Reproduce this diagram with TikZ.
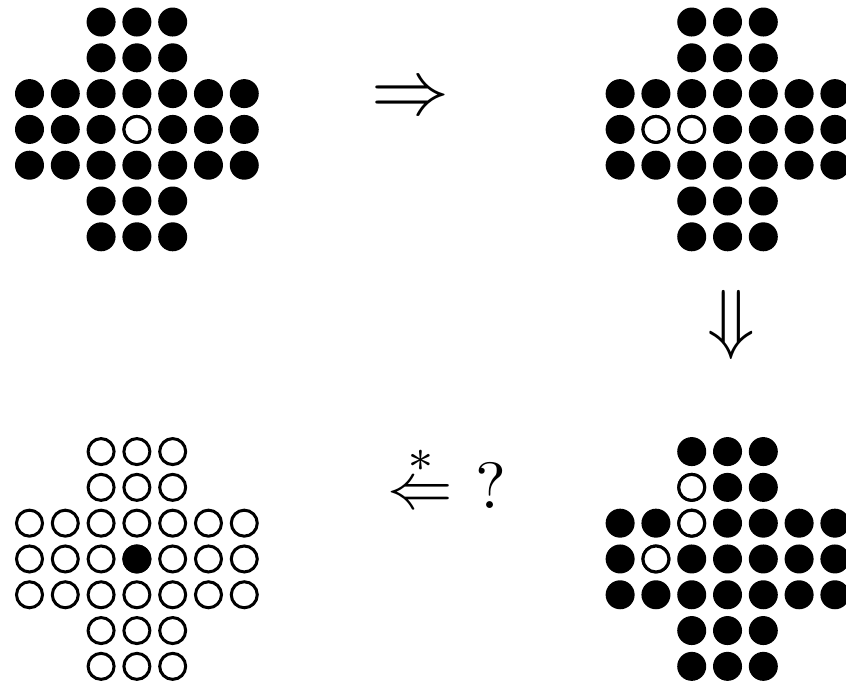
\documentclass[tikz,border=0pt]{standalone}
\usepackage{amssymb,amsmath}
\usepackage{graphicx}
\usepackage{tikz}

\tikzset{
    peg/.style={fill=black, radius=0.405},
    hole/.style={draw=black, fill=white, line width=1.2pt, radius=0.363}
}

\begin{document}
\begin{tikzpicture}[x=0.5cm,y=0.5cm]
        \useasboundingbox (-0.824,0.615) rectangle (22.81,-18.41);

        % Board 1: full board, centre empty
        \def\bx{0} % x-offset of board
        \def\by{0} % y-offset of board
        \foreach \x in {2,3,4} {
            \foreach \y in {0,...,6} {
                \path[peg] (\bx+\x,\by-\y) circle;
            }
        }
        \foreach \x in {0,1,5,6} {
            \foreach \y in {2,3,4} {
                \path[peg] (\bx+\x,\by-\y) circle;
            }
        }
        \foreach \x/\y in {3/3} {
            \path[hole] (\bx+\x,\by-\y) circle;
        }

        % Board 2: after the first jump
        \def\bx{16.5}
        \def\by{0}
        \foreach \x in {2,3,4} {
            \foreach \y in {0,...,6} {
                \path[peg] (\bx+\x,\by-\y) circle;
            }
        }
        \foreach \x in {0,1,5,6} {
            \foreach \y in {2,3,4} {
                \path[peg] (\bx+\x,\by-\y) circle;
            }
        }
        \foreach \x/\y in {1/3, 2/3} {
            \path[hole] (\bx+\x,\by-\y) circle;
        }

        % Board 3: after the second jump
        \def\bx{16.5}
        \def\by{-12}
        \foreach \x in {2,3,4} {
            \foreach \y in {0,...,6} {
                \path[peg] (\bx+\x,\by-\y) circle;
            }
        }
        \foreach \x in {0,1,5,6} {
            \foreach \y in {2,3,4} {
                \path[peg] (\bx+\x,\by-\y) circle;
            }
        }
        \foreach \x/\y in {2/1, 2/2, 1/3} {
            \path[hole] (\bx+\x,\by-\y) circle;
        }

        % Board 4: goal, one peg left in the centre
        \def\bx{0}
        \def\by{-12}
        \foreach \x in {2,3,4} {
            \foreach \y in {0,...,6} {
                \path[hole] (\bx+\x,\by-\y) circle;
            }
        }
        \foreach \x in {0,1,5,6} {
            \foreach \y in {2,3,4} {
                \path[hole] (\bx+\x,\by-\y) circle;
            }
        }
        \foreach \x/\y in {3/3} {
            \path[peg] (\bx+\x,\by-\y) circle;
        }

        % Moves between the boards
        \node[anchor=base, inner sep=0] (move1) at (10.63,-2.59) {\scalebox{3.1}{$\Rightarrow$}};
        \node[inner sep=0] (move2) at (19.62,-8.46) {\scalebox{3.1}{$\Downarrow$}};
        \node[anchor=base, inner sep=0] (moves) at (11.66,-13.60) {\scalebox{2.6}{$\stackrel{*}{\Leftarrow}$ ?}};
    \end{tikzpicture}
\end{document}
